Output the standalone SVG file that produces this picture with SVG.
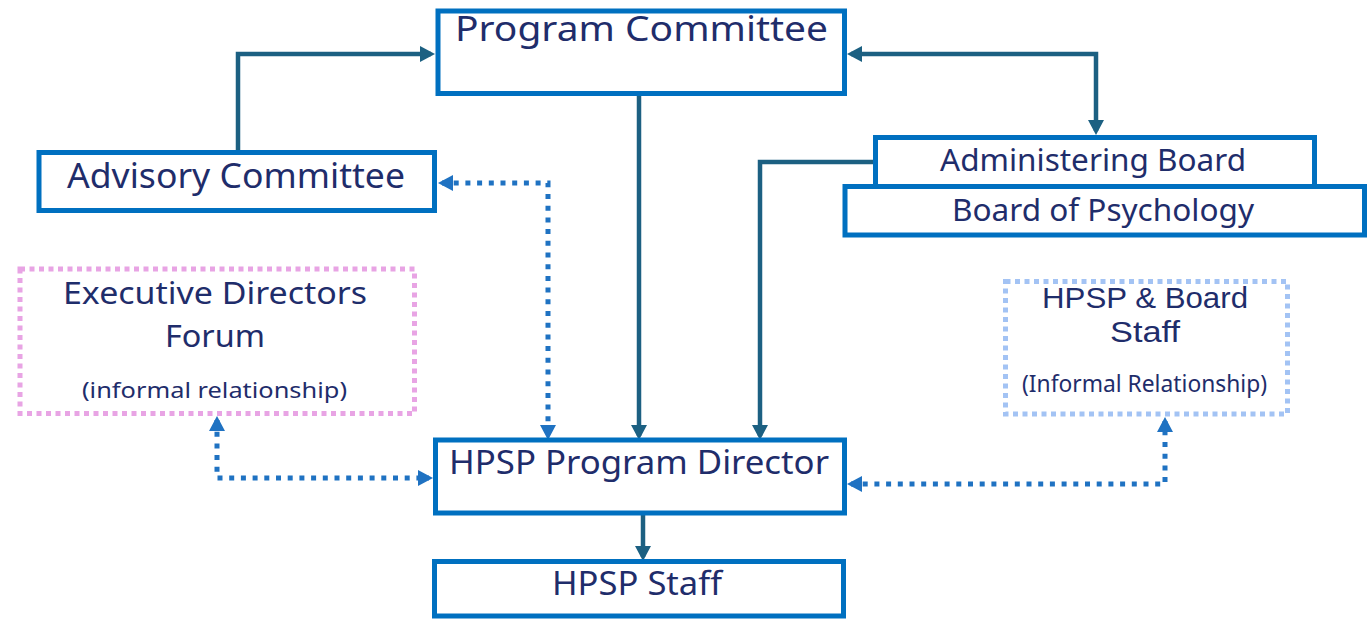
<svg xmlns="http://www.w3.org/2000/svg" width="1371" height="619" viewBox="0 0 1371 619">
<style>
.box{fill:#ffffff;stroke:#0070C0;stroke-width:5}
.pink{fill:none;stroke:#E8A4E4;stroke-width:5;stroke-dasharray:5 4.5}
.lblue{fill:none;stroke:#A3C3F4;stroke-width:5;stroke-dasharray:5 4.5}
.t{font-family:"Noto Sans","Open Sans","DejaVu Sans",sans-serif;fill:#1F2D6B;text-anchor:middle}
.tl{font-family:"Liberation Sans",Arial,sans-serif;fill:#1F2D6B;text-anchor:middle}
.solid{fill:none;stroke:#1C6082;stroke-width:4.5}
.dot{fill:none;stroke:#1F72C2;stroke-width:5;stroke-dasharray:5 6.7}
</style>
<defs>
<marker id="ah" viewBox="0 0 15 16" markerWidth="15" markerHeight="16" refX="11" refY="8" markerUnits="userSpaceOnUse" orient="auto-start-reverse"><path d="M0,0 L15,8 L0,16 z" fill="#1C6082"/></marker>
<marker id="ahb" viewBox="0 0 15 16" markerWidth="15" markerHeight="16" refX="11" refY="8" markerUnits="userSpaceOnUse" orient="auto-start-reverse"><path d="M0,0 L15,8 L0,16 z" fill="#1F72C2"/></marker>
</defs>
<rect width="1371" height="619" fill="#ffffff"/>
<g id="connectors">
<path class="solid" d="M238,152 V54 H431" marker-end="url(#ah)"/>
<path class="solid" d="M851,54 H1096 V131" marker-start="url(#ah)" marker-end="url(#ah)"/>
<path class="solid" d="M639,95 V436" marker-end="url(#ah)"/>
<path class="solid" d="M876,162 H760 V436" marker-end="url(#ah)"/>
<path class="solid" d="M643,514 V557" marker-end="url(#ah)"/>
<path class="dot" d="M442,183 H548 V436" marker-start="url(#ahb)" marker-end="url(#ahb)"/>
<path class="dot" d="M217,420 V478 H429" marker-start="url(#ahb)" marker-end="url(#ahb)"/>
<path class="dot" d="M851,484 H1165 V421" marker-start="url(#ahb)" marker-end="url(#ahb)"/>
</g>
<g id="program-committee">
<rect class="box" x="438" y="11" width="406.5" height="82.5"/>
<text class="t" x="641.5" y="41" font-size="34" textLength="373" lengthAdjust="spacingAndGlyphs">Program Committee</text>
</g>
<g id="advisory-committee">
<rect class="box" x="39" y="152.5" width="395.5" height="58"/>
<text class="t" x="236" y="188" font-size="34" textLength="338" lengthAdjust="spacingAndGlyphs">Advisory Committee</text>
</g>
<g id="administering-board">
<rect class="box" x="875.5" y="137.5" width="439" height="49"/>
<text class="t" x="1093" y="171" font-size="30" textLength="306" lengthAdjust="spacingAndGlyphs">Administering Board</text>
</g>
<g id="board-of-psychology">
<rect class="box" x="845" y="186.5" width="519.5" height="48.5"/>
<text class="t" x="1103" y="221" font-size="30" textLength="302" lengthAdjust="spacingAndGlyphs">Board of Psychology</text>
</g>
<g id="executive-directors-forum">
<rect class="pink" x="20" y="269" width="394.5" height="144.5"/>
<text class="t" x="215" y="304" font-size="31" textLength="304" lengthAdjust="spacingAndGlyphs">Executive Directors</text>
<text class="t" x="215" y="347" font-size="31" textLength="100" lengthAdjust="spacingAndGlyphs">Forum</text>
<text class="t" x="214.5" y="398" font-size="22" textLength="265" lengthAdjust="spacingAndGlyphs">(informal relationship)</text>
</g>
<g id="hpsp-board-staff">
<rect class="lblue" x="1005.5" y="281.5" width="282" height="132.5"/>
<text class="tl" x="1145" y="308" font-size="30" textLength="206" lengthAdjust="spacingAndGlyphs">HPSP &amp; Board</text>
<text class="tl" x="1145" y="342" font-size="30" textLength="70" lengthAdjust="spacingAndGlyphs">Staff</text>
<text class="t" x="1144.5" y="392" font-size="23" textLength="245" lengthAdjust="spacingAndGlyphs">(Informal Relationship)</text>
</g>
<g id="hpsp-program-director">
<rect class="box" x="435.5" y="440" width="409" height="73"/>
<text class="t" x="639" y="474" font-size="32" textLength="380" lengthAdjust="spacingAndGlyphs">HPSP Program Director</text>
</g>
<g id="hpsp-staff">
<rect class="box" x="434.5" y="561.5" width="409" height="54.5"/>
<text class="t" x="637" y="595" font-size="32" textLength="170" lengthAdjust="spacingAndGlyphs">HPSP Staff</text>
</g>
</svg>
